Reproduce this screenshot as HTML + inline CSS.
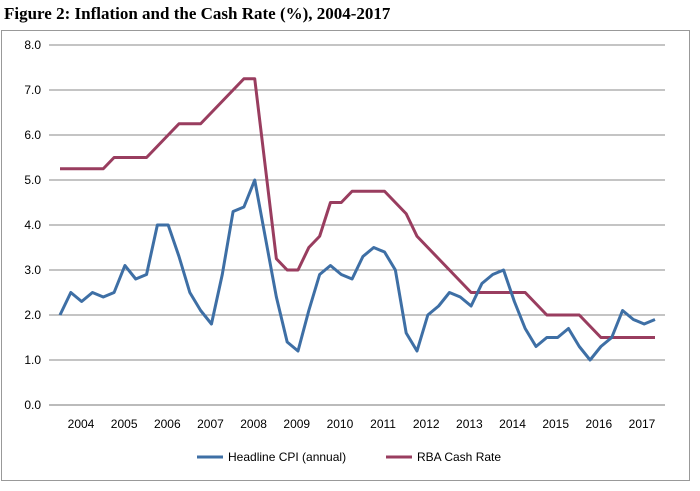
<!DOCTYPE html>
<html><head><meta charset="utf-8"><style>
body{margin:0;background:#fff;width:700px;height:491px;overflow:hidden;font-family:"Liberation Sans",sans-serif}
#title{position:absolute;left:4px;top:4px;font-family:"Liberation Serif",serif;font-weight:bold;font-size:17px;color:#000}
</style></head><body>
<div id="title">Figure 2: Inflation and the Cash Rate (%), 2004-2017</div>
<svg id="chart" width="700" height="491" style="position:absolute;left:0;top:0"></svg>
<script>
const years=["2004","2005","2006","2007","2008","2009","2010","2011","2012","2013","2014","2015","2016","2017"];
const yTicks=[0,1,2,3,4,5,6,7,8];
const cpi=[2.0,2.5,2.3,2.5,2.4,2.5,3.1,2.8,2.9,4.0,4.0,3.3,2.5,2.1,1.8,2.9,4.3,4.4,5.0,3.7,2.4,1.4,1.2,2.1,2.9,3.1,2.9,2.8,3.3,3.5,3.4,3.0,1.6,1.2,2.0,2.2,2.5,2.4,2.2,2.7,2.9,3.0,2.3,1.7,1.3,1.5,1.5,1.7,1.3,1.0,1.3,1.5,2.1,1.9,1.8,1.9];
const cash=[5.25,5.25,5.25,5.25,5.25,5.5,5.5,5.5,5.5,5.75,6.0,6.25,6.25,6.25,6.5,6.75,7.0,7.25,7.25,5.25,3.25,3.0,3.0,3.5,3.75,4.5,4.5,4.75,4.75,4.75,4.75,4.5,4.25,3.75,3.5,3.25,3.0,2.75,2.5,2.5,2.5,2.5,2.5,2.5,2.25,2.0,2.0,2.0,2.0,1.75,1.5,1.5,1.5,1.5,1.5,1.5];
const NS="http://www.w3.org/2000/svg";
const svg=document.getElementById('chart');
const L=49,R=665,T=45,B=405;
const X0=60,X1=655;
const step=(X1-X0)/(cpi.length-1);
const x=i=>X0+step*i;
const xYear=k=>81+(642-81)/13*k;
const y=v=>B-(v/8)*(B-T);
function mk(t,a){const e=document.createElementNS(NS,t);for(const k in a)e.setAttribute(k,a[k]);svg.appendChild(e);return e;}
let frame=mk('rect',{x:1.5,y:30.5,width:688,height:450,fill:'none',stroke:'#999'});


yTicks.forEach(t=>{
 const g=mk('line',{x1:L,x2:R,y1:y(t),y2:y(t),stroke:t===0?'#777':'#888','stroke-width':1});
 
 
 const tx=mk('text',{x:L-8,y:y(t)+4,'text-anchor':'end','font-size':12,fill:'#000'});
 tx.textContent=t.toFixed(1);
 
 
});
years.forEach((yr,k)=>{
 const tx=mk('text',{x:xYear(k),y:428,'text-anchor':'middle','font-size':12,fill:'#000'});
 tx.textContent=yr;
 
 
});
function line(d,c,n){
 const p=mk('polyline',{points:d.map((v,i)=>x(i)+','+y(v)).join(' '),fill:'none',stroke:c,'stroke-width':3,'stroke-linejoin':'round'});
 
 
}
line(cash,'#993d5f','cash-rate-line');
line(cpi,'#3e6fa5','cpi-line');
function leg(x0,c,t,n){
 const l=mk('line',{x1:x0,x2:x0+26,y1:457,y2:457,stroke:c,'stroke-width':3});
 
 
 const tx=mk('text',{x:x0+31,y:461,'font-size':12,fill:'#000'});
 tx.textContent=t;
 
 
}
leg(197,'#3e6fa5','Headline CPI (annual)','legend-cpi');
leg(386,'#993d5f','RBA Cash Rate','legend-cash-rate');
</script>
</body></html>
